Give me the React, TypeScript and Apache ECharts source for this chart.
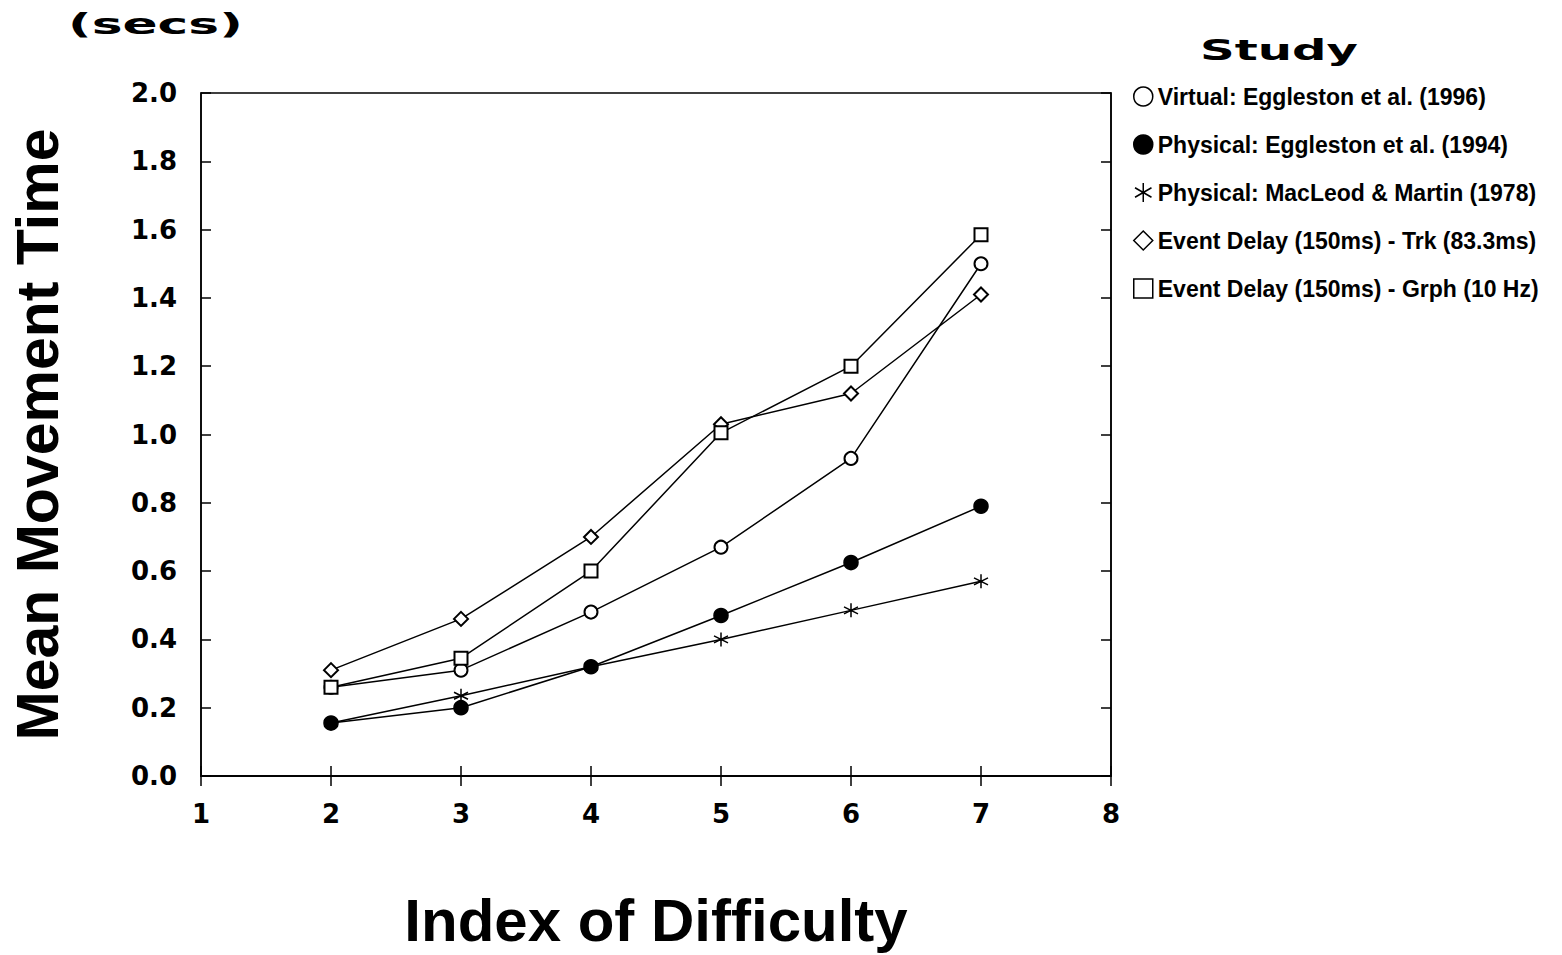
import React, { useEffect, useRef } from "react";
import * as echarts from "echarts";

const xValues = [2, 3, 4, 5, 6, 7];
const seriesNames = [
  "Virtual: Eggleston et al. (1996)",
  "Physical: Eggleston et al. (1994)",
  "Physical: MacLeod & Martin (1978)",
  "Event Delay (150ms) - Trk (83.3ms)",
  "Event Delay (150ms) - Grph (10 Hz)",
];
const virtualEggleston = [0.26, 0.31, 0.48, 0.67, 0.93, 1.5];
const physicalEggleston = [0.155, 0.2, 0.32, 0.47, 0.625, 0.79];
const physicalMacLeod = [0.155, 0.235, 0.32, 0.4, 0.485, 0.57];
const delayTrk = [0.31, 0.46, 0.7, 1.03, 1.12, 1.41];
const delayGrph = [0.26, 0.345, 0.6, 1.005, 1.2, 1.585];
const yTicks = { min: 0, max: 2, interval: 0.2 };
const xTicks = { min: 1, max: 8, interval: 1 };

const STAR = "path://M0,-10 L0,10 M-8.66,-5 L8.66,5 M-8.66,5 L8.66,-5";
const FONT = "DejaVu Sans";

export default function App() {
  const ref = useRef<HTMLDivElement>(null);
  useEffect(() => {
    if (!ref.current) return;
    const chart = echarts.init(ref.current, undefined, { renderer: "svg" });
    const dataOf = (arr: number[]) => xValues.map((x, i) => [x, arr[i]]);
    const symbols = ["emptyCircle", "circle", STAR, "emptyDiamond", "emptyRect"];
    const sizes = [13, 14, 14, 14, 13];
    const arrays = [virtualEggleston, physicalEggleston, physicalMacLeod, delayTrk, delayGrph];
    const legendIcons = ["circle", "circle", STAR, "diamond", "rect"];
    const legendFill = ["#fff", "#000", "#000", "#fff", "#fff"];
    const axisLabel = { fontFamily: FONT, fontWeight: "bold", fontSize: 26, color: "#000" };
    const tick = { show: true, inside: true, length: 10, lineStyle: { color: "#000", width: 1.5 } };
    const line = { show: true, lineStyle: { color: "#000", width: 1.5 } };
    chart.setOption({
      animation: false,
      backgroundColor: "#fff",
      grid: {
        left: 196,
        right: 451,
        top: 93,
        bottom: 170,
        show: true,
        borderColor: "#000",
        borderWidth: 1.5,
      },
      legend: {
        orient: "vertical",
        left: 1128,
        top: 80,
        itemWidth: 19,
        itemHeight: 19,
        itemGap: 25,
        itemTextGap: 9,
        textStyle: { fontFamily: "Liberation Sans", fontWeight: "bold", fontSize: 23, color: "#000" },
        data: seriesNames.map((n, i) => ({
          name: n,
          icon: legendIcons[i],
          itemStyle: { color: legendFill[i], borderColor: "#000", borderWidth: 1.5 },
        })),
      },
      graphic: [
        {
          type: "text",
          x: 68,
          y: 10,
          scaleX: 1.85,
          style: { text: "(secs)", font: `bold 28px '${FONT}'`, fill: "#000" },
        },
        {
          type: "text",
          x: 1200,
          y: 36,
          scaleX: 1.72,
          style: { text: "Study", font: `bold 28px '${FONT}'`, fill: "#000" },
        },
      ],
      xAxis: [
        {
          type: "value",
          min: xTicks.min,
          max: xTicks.max,
          interval: xTicks.interval,
          position: "bottom",
          name: "Index of Difficulty",
          nameLocation: "middle",
          nameGap: 114,
          nameTextStyle: { fontFamily: "Liberation Sans", fontWeight: "bold", fontSize: 60, color: "#000" },
          axisLine: line,
          axisTick: tick,
          axisLabel: { ...axisLabel, margin: 25 },
          splitLine: { show: false },
        },
        {
          type: "value",
          min: xTicks.min,
          max: xTicks.max,
          interval: xTicks.interval,
          position: "top",
          axisLine: line,
          axisTick: tick,
          axisLabel: { show: false },
          splitLine: { show: false },
        },
      ],
      yAxis: [
        {
          type: "value",
          min: yTicks.min,
          max: yTicks.max,
          interval: yTicks.interval,
          position: "left",
          name: "Mean Movement Time",
          nameLocation: "middle",
          nameGap: 134,
          nameTextStyle: { fontFamily: "Liberation Sans", fontWeight: "bold", fontSize: 59, color: "#000" },
          axisLine: line,
          axisTick: tick,
          axisLabel: { ...axisLabel, margin: 24, formatter: (v: number) => v.toFixed(1) },
          splitLine: { show: false },
        },
        {
          type: "value",
          min: yTicks.min,
          max: yTicks.max,
          interval: yTicks.interval,
          position: "right",
          axisLine: line,
          axisTick: tick,
          axisLabel: { show: false },
          splitLine: { show: false },
        },
      ],
      series: seriesNames.map((n, i) => ({
        name: n,
        type: "line",
        xAxisIndex: 0,
        yAxisIndex: 0,
        data: dataOf(arrays[i]),
        symbol: symbols[i],
        symbolSize: sizes[i],
        showAllSymbol: true,
        lineStyle: { color: "#000", width: 1.5 },
        itemStyle: { color: "#000", borderColor: "#000", borderWidth: 1.5 },
        z: 2 + i,
      })),
    });
    return () => chart.dispose();
  }, []);
  return (
    <div
      ref={ref}
      style={{ position: "fixed", left: 0, top: 0, width: 1562, height: 955, background: "#fff" }}
    />
  );
}
